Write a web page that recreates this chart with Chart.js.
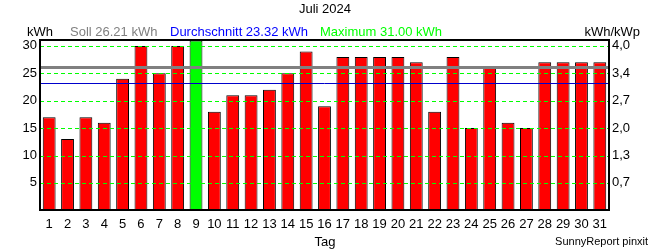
<!DOCTYPE html>
<html><head><meta charset="utf-8">
<script src="https://cdn.jsdelivr.net/npm/chart.js@4"></script>
<style>html,body{margin:0;padding:0;background:#fff}#wrap{width:650px;height:250px;position:relative}</style>
</head><body><div id="wrap"><canvas id="c" width="650" height="250"></canvas></div>
<script>
const days = ["1","2","3","4","5","6","7","8","9","10","11","12","13","14","15","16","17","18","19","20","21","22","23","24","25","26","27","28","29","30","31"];
const energy = [17,13,17,16,24,30,25,30,31,18,21,21,22,25,29,19,28,28,28,28,27,18,28,15,26,16,15,27,27,27,27];
const leftTicks = [5,10,15,20,25,30];
const rightTickLabels = ["0,7","1,3","2,0","2,7","3,4","4,0"];
const soll = 26.21;
const average = 23.32;
const maximum = 31.00;
const title = "Juli 2024";

const FONT = "'Liberation Sans', Arial, sans-serif";
const maxVal = Math.max(...energy);
const barColors = energy.map(v => v === maxVal ? '#00ff00' : '#ff0000');

const overlay = {
  id: 'overlay',
  afterDatasetsDraw(chart) {
    const {ctx, chartArea: a, scales: {y}} = chart;
    const L = Math.round(a.left), R = Math.round(a.right), T = Math.round(a.top), B = Math.round(a.bottom);
    ctx.save();
    // dashed grid (drawn over the bars)
    ctx.strokeStyle = '#00ff00'; ctx.lineWidth = 1;
    ctx.setLineDash([4, 3]);
    leftTicks.forEach(v => {
      const py = Math.round(y.getPixelForValue(v)) + 0.5;
      ctx.beginPath(); ctx.moveTo(L, py); ctx.lineTo(R, py); ctx.stroke();
    });
    ctx.setLineDash([]);
    // Soll line
    ctx.strokeStyle = '#808080'; ctx.lineWidth = 3;
    const ps = Math.round(y.getPixelForValue(soll)) + 0.5;
    ctx.beginPath(); ctx.moveTo(L, ps); ctx.lineTo(R, ps); ctx.stroke();
    // average line
    ctx.strokeStyle = '#0000cc'; ctx.lineWidth = 1;
    const py = Math.round(y.getPixelForValue(average)) + 0.5;
    ctx.beginPath(); ctx.moveTo(L, py); ctx.lineTo(R, py); ctx.stroke();
    // frame
    ctx.strokeStyle = '#000'; ctx.lineWidth = 2;
    ctx.strokeRect(L, T, R - L, B - T);
    ctx.restore();
  },
  afterDraw(chart) {
    const {ctx} = chart;
    ctx.save();
    ctx.textBaseline = 'middle';
    ctx.font = '13px ' + FONT;
    ctx.fillStyle = '#000';
    ctx.textAlign = 'center';
    ctx.fillText(title, 325, 9);
    ctx.textAlign = 'left';
    ctx.fillText('kWh', 27, 32);
    ctx.fillStyle = '#808080';
    ctx.fillText('Soll ' + soll.toFixed(2) + ' kWh', 70, 32);
    ctx.fillStyle = '#0000ff';
    ctx.fillText('Durchschnitt ' + average.toFixed(2) + ' kWh', 170, 32);
    ctx.fillStyle = '#00ff00';
    ctx.fillText('Maximum ' + maximum.toFixed(2) + ' kWh', 320, 32);
    ctx.fillStyle = '#000';
    ctx.textAlign = 'right';
    ctx.fillText('kWh/kWp', 640, 32);
    ctx.textAlign = 'center';
    ctx.fillText('Tag', 325, 242);
    ctx.font = '11px ' + FONT;
    ctx.textAlign = 'right';
    ctx.fillText('SunnyReport pinxit', 648, 242);
    ctx.restore();
  }
};

new Chart(document.getElementById('c'), {
  type: 'bar',
  data: {
    labels: days,
    datasets: [{
      data: energy,
      backgroundColor: barColors,
      borderColor: '#000',
      borderWidth: 1,
      barPercentage: 0.7,
      categoryPercentage: 1.0
    }]
  },
  options: {
    responsive: false,
    animation: false,
    events: [],
    layout: {padding: {top: 40, left: 0, right: 0, bottom: 0}},
    plugins: {legend: {display: false}, tooltip: {enabled: false}, title: {display: false}},
    scales: {
      x: {
        grid: {display: false, drawTicks: false},
        border: {display: false},
        ticks: {color: '#000', font: {family: FONT, size: 13}, padding: 6, maxRotation: 0, autoSkip: false},
        afterFit(s) { s.height = 39.7; }
      },
      y: {
        position: 'left',
        min: 0, max: 31.08,
        grid: {display: false, drawTicks: false},
        border: {display: false},
        ticks: {color: '#000', font: {family: FONT, size: 13}, padding: 3, stepSize: 5},
        afterBuildTicks(s) { s.ticks = leftTicks.map(v => ({value: v})); },
        afterFit(s) { s.width = 40; }
      },
      y2: {
        position: 'right',
        min: 0, max: 31.08,
        grid: {display: false, drawTicks: false},
        border: {display: false},
        ticks: {color: '#000', font: {family: FONT, size: 13}, padding: 3,
          callback: (v, i) => rightTickLabels[i]},
        afterBuildTicks(s) { s.ticks = leftTicks.map(v => ({value: v})); },
        afterFit(s) { s.width = 41; }
      }
    }
  },
  plugins: [overlay]
});
</script>
</body></html>
